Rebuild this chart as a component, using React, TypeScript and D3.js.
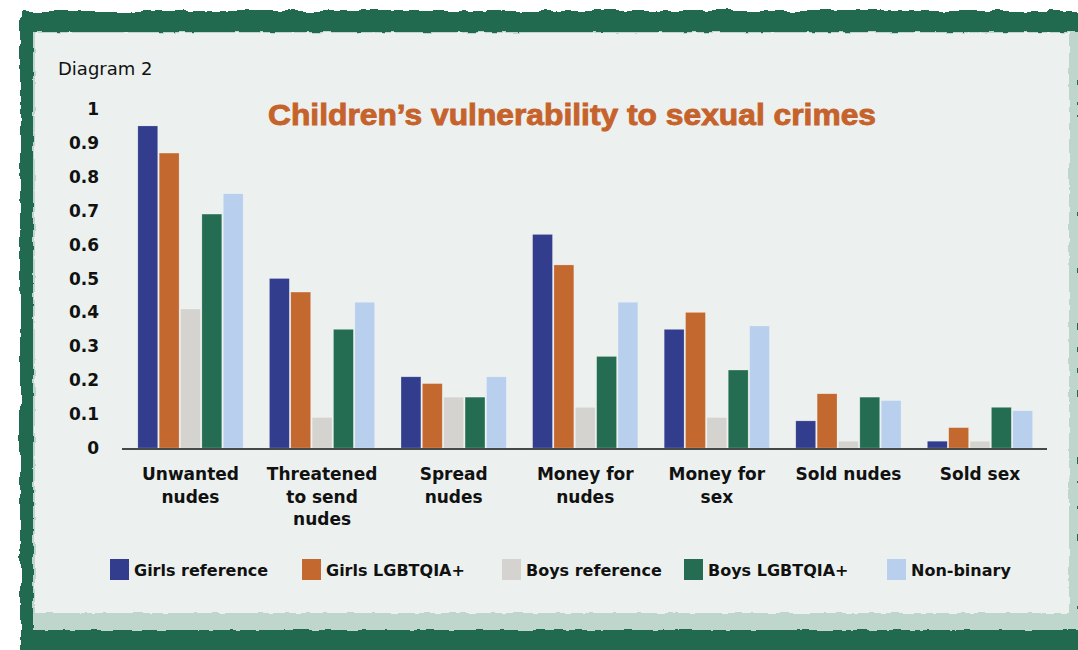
import React from "react";
import * as d3 from "d3";

const categories = ["Unwanted nudes", "Threatened to send nudes", "Spread nudes", "Money for nudes", "Money for sex", "Sold nudes", "Sold sex"];
const categoryLines = [["Unwanted", "nudes"], ["Threatened", "to send", "nudes"], ["Spread", "nudes"], ["Money for", "nudes"], ["Money for", "sex"], ["Sold nudes"], ["Sold sex"]];
const seriesNames = ["Girls reference", "Girls LGBTQIA+", "Boys reference", "Boys LGBTQIA+", "Non-binary"];
const seriesColors = ["#323d8e", "#c3682f", "#d4d3cf", "#246d53", "#b9cfee"];
const girlsReference = [0.95, 0.5, 0.21, 0.63, 0.35, 0.08, 0.02];
const girlsLGBTQIA = [0.87, 0.46, 0.19, 0.54, 0.4, 0.16, 0.06];
const boysReference = [0.41, 0.09, 0.15, 0.12, 0.09, 0.02, 0.02];
const boysLGBTQIA = [0.69, 0.35, 0.15, 0.27, 0.23, 0.15, 0.12];
const nonBinary = [0.75, 0.43, 0.21, 0.43, 0.36, 0.14, 0.11];
const seriesValues = [girlsReference, girlsLGBTQIA, boysReference, boysLGBTQIA, nonBinary];
const yTicks = [0, 0.1, 0.2, 0.3, 0.4, 0.5, 0.6, 0.7, 0.8, 0.9, 1];
const title = "Children\u2019s vulnerability to sexual crimes";
const diagramLabel = "Diagram 2";

const W = 1078;
const H = 650;

export default function App() {
  const x = d3.scaleBand<string>().domain(categories).range([124.7, 1045.8]).paddingInner(0.2).paddingOuter(0.1);
  const xi = d3.scaleBand<string>().domain(seriesNames).range([0, x.bandwidth()]).paddingInner(0.07);
  const y = d3.scaleLinear().domain([0, 1]).range([448, 109]);
  const legendX = [110, 302, 502, 684, 887];
  const fmt = (v: number) => (v === 0 ? "0" : v === 1 ? "1" : d3.format(".1f")(v));
  const boldFont = "'DejaVu Sans', sans-serif";

  return (
    <svg width={W} height={H} style={{ position: "absolute", left: 0, top: 0, background: "#ffffff" }}>
      <defs>
        <filter id="rough" x="-5%" y="-5%" width="110%" height="110%">
          <feTurbulence type="fractalNoise" baseFrequency="0.06" numOctaves={3} seed={3} result="noise" />
          <feDisplacementMap in="SourceGraphic" in2="noise" scale={7} xChannelSelector="R" yChannelSelector="G" />
        </filter>
        <filter id="rough2" x="-5%" y="-5%" width="110%" height="110%">
          <feTurbulence type="fractalNoise" baseFrequency="0.09" numOctaves={2} seed={7} result="noise" />
          <feDisplacementMap in="SourceGraphic" in2="noise" scale={4} xChannelSelector="R" yChannelSelector="G" />
        </filter>
      </defs>
      <rect x={0} y={0} width={W} height={H} fill="#ffffff" />
      <rect x={20} y={11} width={1070} height={660} fill="#236b50" filter="url(#rough)" />
      <rect x={33} y={32} width={1045} height={598} fill="#bfd6cc" filter="url(#rough2)" />
      <rect x={35} y={33} width={1034} height={580} fill="#ecf1ef" filter="url(#rough2)" />

      <text x={58} y={75} fontFamily={boldFont} fontSize={18} fill="#111">{diagramLabel}</text>
      <text x={572} y={125} textAnchor="middle" fontFamily="'Liberation Sans', Arial, sans-serif" fontWeight="bold" fontSize={30} textLength={608} lengthAdjust="spacingAndGlyphs" fill="#c6622b" stroke="#c6622b" strokeWidth={0.9}>{title}</text>

      {yTicks.map((t) => (
        <text key={t} x={99} y={y(t) + 6} textAnchor="end" fontFamily={boldFont} fontWeight="bold" fontSize={17} fill="#111">{fmt(t)}</text>
      ))}

      {categories.map((c, ci) => (
        <g key={c} transform={`translate(${x(c)},0)`}>
          {seriesNames.map((s, si) => {
            const v = seriesValues[si][ci];
            return (
              <rect key={s} x={xi(s)} y={y(v)} width={xi.bandwidth()} height={y(0) - y(v)} fill={seriesColors[si]} stroke="#ffffff" strokeOpacity={0.35} strokeWidth={0.6} />
            );
          })}
        </g>
      ))}

      <line x1={122} x2={1047} y1={449} y2={449} stroke="#111" strokeWidth={1.6} />

      {categories.map((c, ci) => (
        <text key={c} textAnchor="middle" fontFamily={boldFont} fontWeight="bold" fontSize={17} fill="#111">
          {categoryLines[ci].map((line, li) => (
            <tspan key={li} x={(x(c) as number) + x.bandwidth() / 2} y={480 + li * 22.5}>{line}</tspan>
          ))}
        </text>
      ))}

      {seriesNames.map((s, si) => (
        <g key={s}>
          <rect x={legendX[si]} y={559} width={19} height={21} fill={seriesColors[si]} />
          <text x={legendX[si] + 24} y={576} fontFamily={boldFont} fontWeight="bold" fontSize={16} fill="#111">{s}</text>
        </g>
      ))}
    </svg>
  );
}
